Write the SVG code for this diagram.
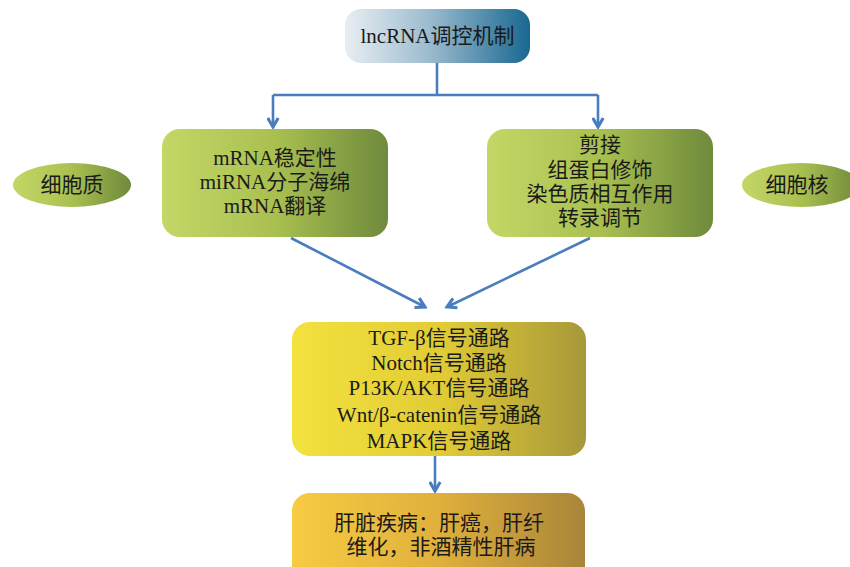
<svg xmlns="http://www.w3.org/2000/svg" width="850" height="567" viewBox="0 0 850 567">
<style>
.t{font-family:"Liberation Serif","Noto Sans CJK SC",serif;font-size:21px;fill:#1a1a1a;text-anchor:middle}
.c{fill:none;stroke:#4a7dbd;stroke-width:2.6}
</style>
<defs>
<linearGradient id="gTop" x1="0" x2="1" y1="0" y2="0"><stop offset="0" stop-color="#e8eef2"/><stop offset="0.45" stop-color="#9dbccf"/><stop offset="1" stop-color="#196891"/></linearGradient>
<linearGradient id="gGreen" x1="0" x2="1" y1="0" y2="0"><stop offset="0" stop-color="#c3d766"/><stop offset="0.5" stop-color="#a9c050"/><stop offset="1" stop-color="#6f8a3c"/></linearGradient>
<linearGradient id="gYellow" x1="0" x2="1" y1="0" y2="0"><stop offset="0" stop-color="#f3e23e"/><stop offset="0.5" stop-color="#e2cc35"/><stop offset="1" stop-color="#a6983a"/></linearGradient>
<linearGradient id="gOrange" x1="0" x2="1" y1="0" y2="0"><stop offset="0" stop-color="#f7cb42"/><stop offset="0.5" stop-color="#e0b03c"/><stop offset="1" stop-color="#a9853a"/></linearGradient>
<marker id="arr" viewBox="0 0 10 10" refX="8" refY="5" markerWidth="5" markerHeight="5" orient="auto" markerUnits="strokeWidth">
<path d="M1,1 L8,5 L1,9" fill="none" stroke="#4a7dbd" stroke-width="2.4"/>
</marker>
</defs>
<rect width="850" height="567" fill="#ffffff"/>
<g id="connectors">
<path class="c" d="M437,63 V95"/>
<path class="c" d="M273,95 H598"/>
<path class="c" d="M273,95 V127" marker-end="url(#arr)"/>
<path class="c" d="M598,95 V127" marker-end="url(#arr)"/>
<path class="c" d="M291,238 L425,307" marker-end="url(#arr)"/>
<path class="c" d="M590,238 L447,307" marker-end="url(#arr)"/>
<path class="c" d="M435,456 V491" marker-end="url(#arr)"/>
</g>
<g id="top">
<rect x="345" y="9" width="185" height="54" rx="16" fill="url(#gTop)"/>
<text class="t" x="437.5" y="43">lncRNA调控机制</text>
</g>
<g id="left-box">
<rect x="162" y="129" width="226" height="108" rx="18" fill="url(#gGreen)"/>
<text class="t" x="275" y="165">mRNA稳定性</text>
<text class="t" x="275" y="189">miRNA分子海绵</text>
<text class="t" x="275" y="213">mRNA翻译</text>
</g>
<g id="right-box">
<rect x="487" y="129" width="226" height="108" rx="18" fill="url(#gGreen)"/>
<text class="t" x="600" y="152">剪接</text>
<text class="t" x="600" y="177">组蛋白修饰</text>
<text class="t" x="600" y="201">染色质相互作用</text>
<text class="t" x="600" y="225">转录调节</text>
</g>
<g id="cytoplasm">
<ellipse cx="72" cy="185" rx="59" ry="22" fill="url(#gGreen)"/>
<text class="t" x="72" y="192">细胞质</text>
</g>
<g id="nucleus">
<ellipse cx="801" cy="185" rx="59" ry="22" fill="url(#gGreen)"/>
<text class="t" x="797" y="192">细胞核</text>
</g>
<g id="pathways">
<rect x="292" y="322" width="294" height="134" rx="18" fill="url(#gYellow)"/>
<text class="t" x="439" y="345">TGF-β信号通路</text>
<text class="t" x="439" y="370">Notch信号通路</text>
<text class="t" x="439" y="395">P13K/AKT信号通路</text>
<text class="t" x="439" y="422">Wnt/β-catenin信号通路</text>
<text class="t" x="439" y="448">MAPK信号通路</text>
</g>
<g id="disease">
<rect x="292" y="493" width="293" height="90" rx="18" fill="url(#gOrange)"/>
<text class="t" x="439" y="530">肝脏疾病：肝癌，肝纤</text>
<text class="t" x="441" y="554">维化，非酒精性肝病</text>
</g>
</svg>
